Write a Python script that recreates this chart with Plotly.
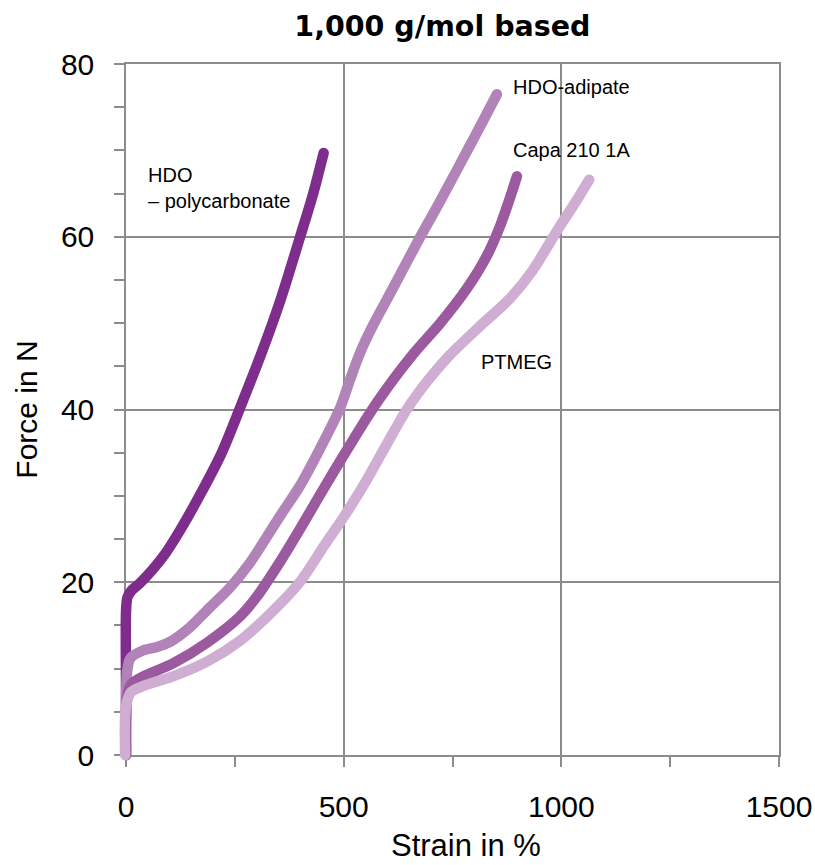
import plotly.graph_objects as go

# ---- data (strain in %, force in N) ----
pc_strain = [0, 0, 0, 3, 12, 30, 60, 90, 124, 172, 220, 266, 311, 355, 400, 430, 454]
pc_force = [0, 8, 16.5, 18.2, 19.0, 19.8, 21.4, 23.3, 26.0, 30.3, 35.0, 40.7, 46.5, 52.7, 60.0, 65.0, 69.7]

adip_strain = [0, 0, 3, 10, 39, 71, 101, 147, 193, 239, 284, 353, 400, 446, 492, 515, 538, 569, 615, 676, 706, 745, 783, 820, 852]
adip_force = [0, 6, 9.8, 11.2, 12.1, 12.5, 13.1, 14.8, 17.1, 19.4, 22.2, 27.6, 31.2, 35.5, 40.2, 43.5, 46.6, 49.9, 54.2, 60.0, 62.7, 66.3, 69.9, 73.4, 76.5]

capa_strain = [0, 0, 3, 12, 40, 108, 186, 261, 300, 353, 400, 450, 500, 554, 600, 661, 722, 783, 829, 859, 880, 898]
capa_force = [0, 4, 6.8, 8.2, 9.1, 10.6, 13.0, 16.0, 18.3, 22.3, 26.2, 30.5, 34.7, 39.1, 42.5, 46.5, 50.0, 54.0, 57.8, 61.2, 64.2, 67.0]

ptmeg_strain = [-2, -2, 3, 12, 40, 108, 186, 261, 330, 399, 456, 502, 550, 599, 645, 691, 740, 812, 881, 934, 995, 1030, 1064]
ptmeg_force = [0, 4.5, 6.3, 7.3, 8.0, 9.1, 10.8, 13.2, 16.3, 20.0, 24.3, 27.7, 31.6, 36.0, 40.0, 43.2, 46.1, 49.6, 52.8, 56.1, 61.1, 63.8, 66.6]

series = [
    ("HDO – polycarbonate", pc_strain, pc_force, "#7E2D8D"),
    ("HDO-adipate", adip_strain, adip_force, "#B283B8"),
    ("Capa 210 1A", capa_strain, capa_force, "#9B5AA0"),
    ("PTMEG", ptmeg_strain, ptmeg_force, "#D0ADD2"),
]

x_ticks = [0, 500, 1000, 1500]
y_ticks = [0, 20, 40, 60, 80]
x_range = [0, 1500]
y_range = [0, 80]

GRID = "#8c8c8c"
FONT = "Liberation Sans, Arial, sans-serif"

# ---- geometry: visible plot box and a slightly larger box for the curves (no clipping at the axes) ----
W, H = 815, 865
box_l, box_r, box_t, box_b = 126, 779, 64, 755      # pixel box of the axes
pad = 10                                             # extra room for the thick lines
m_l, m_r, m_t, m_b = box_l - pad, W - box_r - pad, box_t - pad, H - box_b - pad
pw, ph = W - m_l - m_r, H - m_t - m_b
xdom = [pad / pw, 1 - pad / pw]
ydom = [pad / ph, 1 - pad / ph]
xs_per_px = (x_range[1] - x_range[0]) / (box_r - box_l)
ys_per_px = (y_range[1] - y_range[0]) / (box_b - box_t)
x2_range = [x_range[0] - pad * xs_per_px, x_range[1] + pad * xs_per_px]
y2_range = [y_range[0] - pad * ys_per_px, y_range[1] + pad * ys_per_px]

fig = go.Figure()
# empty trace so the (visible) x/y axes subplot is created
fig.add_trace(go.Scatter(x=[], y=[], mode="lines", xaxis="x", yaxis="y", hoverinfo="skip", showlegend=False))
for name, xs, ys, col in series:
    fig.add_trace(go.Scatter(x=xs, y=ys, mode="lines", name=name, xaxis="x2", yaxis="y2",
                             line=dict(color=col, width=10.5, shape="spline", smoothing=0.8)))

axis_common = dict(
    automargin=False,
    showgrid=True, gridcolor=GRID, gridwidth=1.5,
    showline=True, linecolor=GRID, linewidth=1.5, mirror=True,
    ticks="outside", ticklen=10, tickcolor=GRID, tickwidth=1.5,
    zeroline=False,
    tickfont=dict(family=FONT, size=30, color="black"),
    ticklabelstandoff=14,
)

lab_font = dict(family=FONT, size=20, color="black")

fig.update_layout(
    width=W, height=H,
    margin=dict(l=m_l, r=m_r, t=m_t, b=m_b, autoexpand=False),
    paper_bgcolor="white", plot_bgcolor="rgba(0,0,0,0)",
    showlegend=False,
    xaxis=dict(domain=xdom, range=x_range, tickvals=x_ticks, ticktext=[str(v) for v in x_ticks],
               minor=dict(dtick=250, tick0=0, ticks="outside", ticklen=10, tickcolor=GRID,
                          tickwidth=1.5, showgrid=False),
               anchor="y", **axis_common),
    yaxis=dict(domain=ydom, range=y_range, tickvals=y_ticks, ticktext=[str(v) for v in y_ticks],
               minor=dict(dtick=5, tick0=0, ticks="outside", ticklen=10, tickcolor=GRID,
                          tickwidth=1.5, showgrid=False),
               anchor="x",
               title=dict(text="Force in N", font=dict(family=FONT, size=30, color="black"), standoff=14),
               **axis_common),
    xaxis2=dict(domain=[0, 1], range=x2_range, visible=False, anchor="y2", fixedrange=True),
    yaxis2=dict(domain=[0, 1], range=y2_range, visible=False, anchor="x2", fixedrange=True),
    title=dict(text="<b>1,000 g/mol based</b>", x=0.485, xref="paper", xanchor="center",
               y=0.97, yref="container", yanchor="middle",
               font=dict(family="DejaVu Sans, sans-serif", size=28.5, color="black")),
)

# x-axis title as an annotation (slightly right of centre in the reference)
fig.add_annotation(xref="x domain", yref="y domain", x=0.521, y=-(845 - box_b) / (box_b - box_t),
                   text="Strain in %", showarrow=False, xanchor="center", yanchor="middle",
                   font=dict(family=FONT, size=31, color="black"))

fig.add_annotation(x=885, y=77.3, xref="x", yref="y", text="HDO-adipate", showarrow=False, xanchor="left", yanchor="middle", font=lab_font)
fig.add_annotation(x=885, y=70.0, xref="x", yref="y", text="Capa 210 1A", showarrow=False, xanchor="left", yanchor="middle", font=lab_font)
fig.add_annotation(x=46, y=65.6, xref="x", yref="y", text="HDO<br>– polycarbonate", showarrow=False, xanchor="left", yanchor="middle",
                   align="left", font=lab_font)
fig.add_annotation(x=812, y=45.5, xref="x", yref="y", text="PTMEG", showarrow=False, xanchor="left", yanchor="middle", font=lab_font)

post = """
var fix = function(){
  document.querySelectorAll('.scatterlayer .js-line').forEach(function(e){ e.style.strokeLinecap = 'round'; });
};
fix(); setTimeout(fix, 50); setTimeout(fix, 300);
"""
fig.write_html("out.html", post_script=post)
